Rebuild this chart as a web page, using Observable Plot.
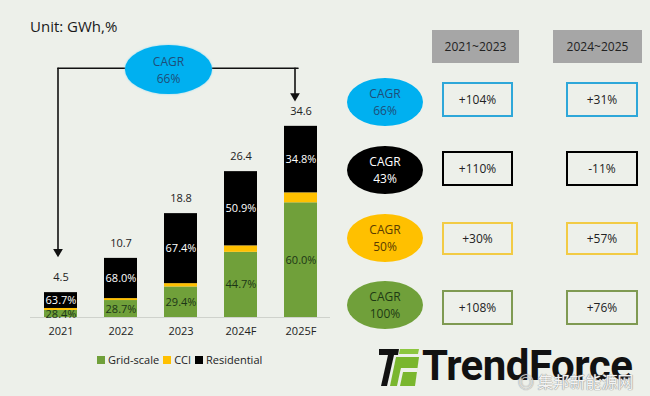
<!DOCTYPE html>
<html>
<head>
<meta charset="utf-8">
<script src="https://cdn.jsdelivr.net/npm/d3@7"></script>
<script src="https://cdn.jsdelivr.net/npm/@observablehq/plot@0.6"></script>
<style>
  html, body { margin: 0; padding: 0; background: #edf0ea; }
  #root { position: relative; width: 650px; height: 396px; background: #edf0ea; overflow: hidden;
          font-family: "Open Sans", "Noto Sans", sans-serif; color: #222; }
  .abs { position: absolute; box-sizing: border-box; }
  .ell { border-radius: 50%; display: flex; align-items: center; justify-content: center;
         text-align: center; font-size: 12px; line-height: 17px; white-space: pre; }
  .box { display: flex; align-items: center; justify-content: center; font-size: 12px; border: 2px solid; }
  .hdr { display: flex; align-items: center; justify-content: center; font-size: 12px; background: #a6a6a6; color: #222; }
</style>
</head>
<body>
<div id="root"></div>
<script>
// ---------------- data ----------------
const years = ["2021", "2022", "2023", "2024F", "2025F"];
const totals = [4.5, 10.7, 18.8, 26.4, 34.6];
const gridShare = [28.4, 28.7, 29.4, 44.7, 60.0];
const cciShare = [7.9, 3.3, 3.2, 4.4, 5.2];
const resShare = [63.7, 68.0, 67.4, 50.9, 34.8];
const segments = ["Grid-scale", "CCI", "Residential"];
const segColors = ["#70a03a", "#ffc000", "#000000"];

const overallCagr = "CAGR\n66%";
const rowCagr = ["CAGR\n66%", "CAGR\n43%", "CAGR\n50%", "CAGR\n100%"];
const rowFill = ["#00b0f0", "#000000", "#ffc000", "#70a03a"];
const rowText = ["#1f4e79", "#ffffff", "#5a3c00", "#1e3a14"];
const rowBorder = ["#2ea7d9", "#000000", "#f2cb45", "#7f9a52"];
const periods = ["2021~2023", "2024~2025"];
const growth2123 = ["+104%", "+110%", "+30%", "+108%"];
const growth2425 = ["+31%", "-11%", "+57%", "+76%"];

// ---------------- build tables ----------------
const shares = [gridShare, cciShare, resShare];
const rows = [];
years.forEach((year, i) => {
  segments.forEach((seg, j) => {
    rows.push({year, segment: seg, share: shares[j][i], value: totals[i] * shares[j][i] / 100});
  });
});
const totalRows = years.map((year, i) => ({year, total: totals[i]}));

// connector (overall CAGR arrows) in data units
const arrowTop = 45.1;
const leftPath = [{x: years[0], y: arrowTop}, {x: years[0], y: totals[0] + 7.5}];
const rightPath = [{x: years[4], y: arrowTop}, {x: years[4], y: totals[4] + 5.6}];
const heads = [{x: years[0], y: totals[0] + 7.4, dx: -3}, {x: years[4], y: totals[4] + 5.5, dx: -6}];

const root = document.getElementById("root");

const chart = Plot.plot({
  width: 340,
  height: 396,
  marginLeft: 30,
  marginRight: 10,
  marginTop: 96,
  marginBottom: 79,
  style: {background: "transparent", fontFamily: "Open Sans", fontSize: "11px", color: "#222", overflow: "visible"},
  x: {domain: years, paddingInner: 0.45, paddingOuter: 0.225, label: null},
  y: {domain: [0, 40], axis: null},
  color: {domain: segments, range: segColors},
  marks: [
    Plot.ruleY([0], {stroke: "#cfd2cc", strokeWidth: 1}),
    Plot.barY(rows, {x: "year", y: "value", fill: "segment", order: segments}),
    Plot.text(rows, Plot.stackY({x: "year", y: "value", z: "segment", order: segments,
      text: d => d.segment === "Residential" ? d.share.toFixed(1) + "%" : "", fill: "white", fontSize: 11})),
    Plot.text(rows, Plot.stackY({x: "year", y: "value", z: "segment", order: segments,
      text: d => d.segment === "Grid-scale" ? d.share.toFixed(1) + "%" : "", fill: "#1c3516", fontSize: 11})),
    Plot.text(totalRows, {x: "year", y: "total", text: d => d.total.toFixed(1), dy: -15, fill: "#222", fontSize: 11}),
    Plot.line(leftPath, {x: "x", y: "y", stroke: "#111", strokeWidth: 1.6, dx: -3}),
    Plot.line(rightPath, {x: "x", y: "y", stroke: "#111", strokeWidth: 1.6, dx: -6}),
    Plot.line([leftPath[0], rightPath[0]], {x: "x", y: "y", stroke: "#111", strokeWidth: 1.6, dx: -3}),
    Plot.dot(heads, {x: "x", y: "y", symbol: "triangle", rotate: 180, r: 3.6, fill: "#111", stroke: null}),
    Plot.axisX({tickSize: 0, tickPadding: 10, fontSize: 11, label: null, fill: "#222"})
  ]
});
chart.style.position = "absolute";
chart.style.left = "0px";
chart.style.top = "0px";
root.appendChild(chart);

// shift the arrow heads to sit on their connector lines
chart.querySelectorAll("g[aria-label='dot'] path").forEach((p, i) => {
  const t = p.getAttribute("transform") || "";
  p.setAttribute("transform", `translate(${heads[i].dx},0) ` + t);
});

// unit label
const unit = document.createElement("div");
unit.className = "abs";
unit.style.cssText = "left:30px;top:16px;font-size:15px;color:#1a1a1a;";
unit.textContent = "Unit: GWh,%";
root.appendChild(unit);

// overall CAGR ellipse
const topEll = document.createElement("div");
topEll.className = "abs ell";
topEll.style.cssText = `left:125px;top:45px;width:87px;height:49px;background:${rowFill[0]};color:${rowText[0]};box-shadow:0 0 2px #7fd6f6;`;
topEll.textContent = overallCagr;
root.appendChild(topEll);

// legend
const legend = Plot.legend({color: {domain: segments, range: segColors}, swatchSize: 8, swatchWidth: 8, swatchHeight: 8,
  style: {fontFamily: "Open Sans", fontSize: "11px", color: "#222", background: "transparent"}});
legend.style.position = "absolute";
legend.style.left = "97px";
legend.style.top = "343px";
legend.style.margin = "0";
legend.style.fontSize = "11px";
root.appendChild(legend);
legend.querySelectorAll("span").forEach(s => { s.style.marginRight = "4px"; });
legend.querySelectorAll("svg").forEach(s => { s.style.marginRight = "3px"; });

// header boxes
const colX = [[432, 87], [553, 89]];
periods.forEach((p, k) => {
  const h = document.createElement("div");
  h.className = "abs hdr";
  h.style.cssText = `left:${colX[k][0]}px;top:30px;width:${colX[k][1]}px;height:33px;`;
  h.textContent = p;
  root.appendChild(h);
});

// rows
const ellY = [78, 146, 214, 281];
const boxY = [82, 151, 222, 290];
const boxH = [35, 35, 33, 35];
const boxCols = [[442, 71], [566, 72]];
rowCagr.forEach((lab, i) => {
  const e = document.createElement("div");
  e.className = "abs ell";
  e.style.cssText = `left:347px;top:${ellY[i]}px;width:76px;height:48px;background:${rowFill[i]};color:${rowText[i]};`;
  e.textContent = lab;
  root.appendChild(e);
  [growth2123[i], growth2425[i]].forEach((g, k) => {
    const b = document.createElement("div");
    b.className = "abs box";
    b.style.cssText = `left:${boxCols[k][0]}px;top:${boxY[i]}px;width:${boxCols[k][1]}px;height:${boxH[i]}px;border-color:${rowBorder[i]};color:#222;`;
    b.textContent = g;
    root.appendChild(b);
  });
});

// logo
const logo = document.createElementNS("http://www.w3.org/2000/svg", "svg");
logo.setAttribute("width", "44");
logo.setAttribute("height", "40");
logo.style.cssText = "position:absolute;left:378px;top:348px;";
logo.innerHTML = `
  <path d="M1,1 L21,1 L20,7 L1,7 Z" fill="#111"/>
  <path d="M10,7 L16,7 L9,38 L3,38 Z" fill="#111"/>
  <path d="M22,1 L41,1 L40,6 L21,6 Z" fill="#8cc63f"/>
  <path d="M18,9 L41,9 L37,38 L12,38 Z" fill="#7ab62e"/>
  <path d="M23,20 L40,20 L39.5,24 L22,24 Z" fill="#edf0ea"/>
  <path d="M22,24 L25,24 L22,38 L19,38 Z" fill="#edf0ea"/>`;
root.appendChild(logo);

const brand = document.createElement("div");
brand.className = "abs";
brand.style.cssText = "left:422px;top:338px;font-family:Roboto,'Open Sans',sans-serif;font-weight:700;font-size:42px;color:#111;letter-spacing:-0.5px;line-height:56px;";
brand.textContent = "TrendForce";
root.appendChild(brand);

// watermark
const wm = document.createElement("div");
wm.className = "abs";
wm.style.cssText = "left:518px;top:369px;font-family:'Noto Sans CJK SC',sans-serif;font-size:16px;color:#f4f4f4;line-height:24px;text-shadow:0 0 1px #888,0 0 1px #888;white-space:nowrap;";
wm.textContent = "◎ 集邦新能源网";
root.appendChild(wm);
</script>
</body>
</html>
